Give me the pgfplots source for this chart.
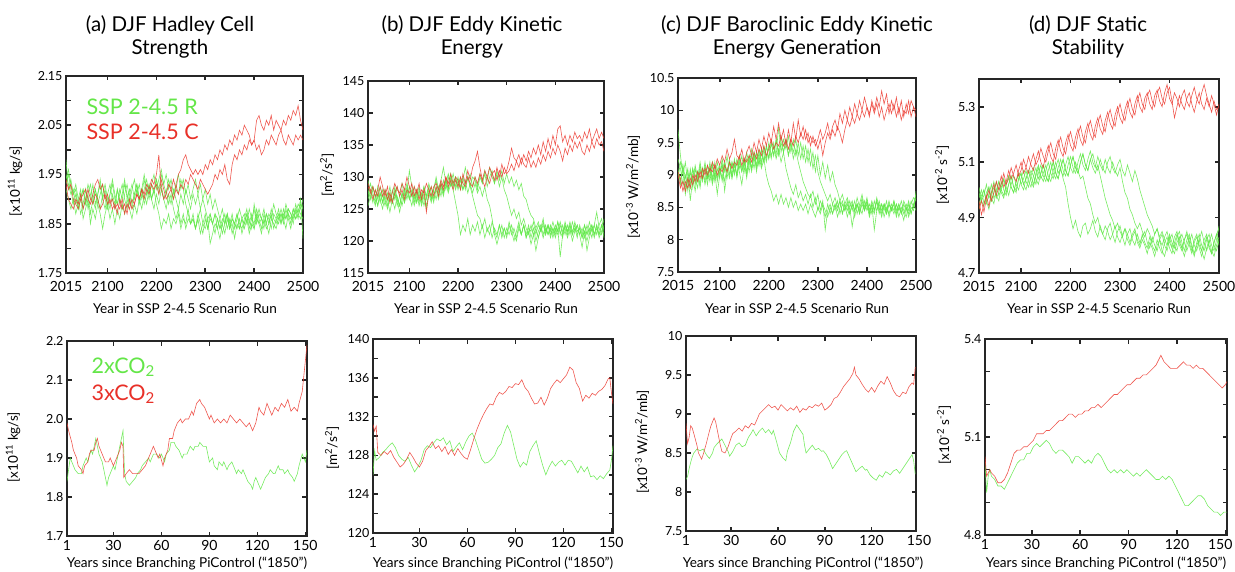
\documentclass[border=0pt]{standalone}
\usepackage{fontspec}
\setmainfont{Lato}
\usepackage{pgfplots}
\usepackage{pgfplotstable}
\pgfplotsset{compat=1.18}
\definecolor{gr}{RGB}{95,232,70}
\definecolor{rd}{RGB}{236,58,48}
\definecolor{grt}{RGB}{100,230,72}
\definecolor{rdt}{RGB}{232,48,40}
\pgfplotsset{
 base/.style={scale only axis, anchor=north west,
  axis line style={line width=2.6pt, draw=black!85},
  tick align=inside, major tick length=4.5pt, minor tick length=4.5pt,
  tick style={line width=1.6pt, black!85},
  yticklabel style={font=\fontsize{12.5}{14}\selectfont},
  xticklabel style={font=\fontsize{14}{16}\selectfont},
  /pgf/number format/assume math mode=true,
  /pgf/number format/1000 sep={}},
 topax/.style={base, xmin=2015, xmax=2500, xtick={2015,2100,2200,2300,2400,2500}, xticklabel style={yshift=-5pt}},
 botax/.style={base, xmin=1, xmax=151, xtick={1,30,60,90,120,150}, xticklabel style={yshift=-0.5pt}},
 gl/.style={color=gr, line width=0.6pt, opacity=0.85, mark=none},
 rl/.style={color=rd, line width=0.6pt, opacity=0.85, mark=none},
}
\pgfplotstableread{
yr g1 g2 g3 g4 g5 r1 r2
2015 1.95 1.93 1.98 1.92 1.94 1.94 1.93
2020 1.93 1.95 1.92 1.90 1.96 1.92 1.90
2025 1.91 1.92 1.94 1.88 1.93 1.93 1.89
2030 1.92 1.89 1.91 1.90 1.91 1.90 1.88
2035 1.89 1.91 1.93 1.87 1.92 1.89 1.90
2040 1.90 1.88 1.90 1.89 1.88 1.88 1.89
2045 1.92 1.90 1.87 1.91 1.90 1.90 1.91
2050 1.88 1.92 1.89 1.86 1.92 1.91 1.88
2055 1.90 1.89 1.92 1.88 1.89 1.92 1.90
2060 1.93 1.91 1.88 1.90 1.91 1.90 1.92
2065 1.91 1.87 1.90 1.85 1.93 1.89 1.90
2070 1.89 1.90 1.93 1.88 1.90 1.91 1.89
2075 1.92 1.92 1.89 1.86 1.88 1.93 1.91
2080 1.90 1.89 1.91 1.89 1.91 1.94 1.90
2085 1.88 1.91 1.94 1.87 1.93 1.92 1.88
2090 1.91 1.93 1.90 1.84 1.90 1.93 1.89
2095 1.93 1.90 1.88 1.87 1.92 1.90 1.91
2100 1.90 1.88 1.91 1.89 1.89 1.91 1.89
2105 1.88 1.91 1.93 1.86 1.91 1.89 1.90
2110 1.91 1.93 1.90 1.88 1.94 1.90 1.88
2115 1.89 1.90 1.88 1.85 1.91 1.88 1.89
2120 1.92 1.89 1.92 1.88 1.89 1.89 1.87
2125 1.90 1.91 1.89 1.86 1.92 1.88 1.90
2130 1.88 1.93 1.91 1.89 1.90 1.90 1.88
2135 1.91 1.90 1.94 1.87 1.93 1.87 1.89
2140 1.93 1.88 1.90 1.90 1.91 1.89 1.87
2145 1.90 1.91 1.92 1.88 1.89 1.88 1.90
2150 1.88 1.93 1.89 1.86 1.92 1.90 1.88
2155 1.91 1.90 1.91 1.89 1.94 1.89 1.89
2160 1.93 1.92 1.93 1.87 1.91 1.91 1.91
2165 1.90 1.89 1.90 1.90 1.93 1.90 1.90
2170 1.92 1.91 1.92 1.88 1.90 1.92 1.92
2175 1.89 1.94 1.95 1.91 1.92 1.91 1.90
2180 1.91 1.91 1.92 1.89 1.94 1.93 1.92
2185 1.93 1.93 1.90 1.92 1.91 1.92 1.91
2190 1.90 1.90 1.93 1.90 1.93 1.94 1.93
2195 1.92 1.92 1.91 1.88 1.95 1.93 1.92
2200 1.89 1.94 1.94 1.91 1.92 1.95 1.93
2205 1.87 1.91 1.92 1.89 1.94 1.99 1.91
2210 1.84 1.93 1.95 1.92 1.96 1.92 1.94
2215 1.86 1.90 1.93 1.90 1.93 1.90 1.92
2220 1.85 1.92 1.91 1.88 1.95 1.91 1.90
2225 1.87 1.89 1.94 1.91 1.92 1.93 1.91
2230 1.84 1.91 1.92 1.89 1.94 1.92 1.92
2235 1.86 1.88 1.90 1.92 1.91 1.94 1.90
2240 1.85 1.86 1.93 1.90 1.93 1.92 1.92
2245 1.87 1.88 1.91 1.88 1.95 1.95 1.91
2250 1.84 1.85 1.94 1.91 1.92 1.96 1.93
2255 1.86 1.87 1.92 1.89 1.94 1.98 1.92
2260 1.85 1.84 1.89 1.92 1.91 1.99 1.94
2265 1.88 1.86 1.87 1.90 1.93 1.97 1.93
2270 1.85 1.85 1.85 1.88 1.90 1.96 1.95
2275 1.86 1.87 1.86 1.91 1.92 1.95 1.94
2280 1.84 1.84 1.84 1.89 1.94 1.96 1.93
2285 1.87 1.86 1.86 1.91 1.91 1.95 1.92
2290 1.85 1.88 1.83 1.88 1.93 1.96 1.94
2295 1.83 1.85 1.85 1.90 1.90 1.95 1.93
2300 1.86 1.87 1.84 1.88 1.92 1.97 1.92
2305 1.84 1.84 1.86 1.86 1.89 1.96 1.91
2310 1.87 1.86 1.81 1.87 1.91 1.98 1.92
2315 1.85 1.85 1.83 1.85 1.88 1.97 1.93
2320 1.83 1.87 1.85 1.87 1.90 1.99 1.95
2325 1.86 1.84 1.84 1.86 1.88 1.98 1.94
2330 1.84 1.86 1.82 1.84 1.86 2.00 1.96
2335 1.85 1.83 1.85 1.86 1.88 1.99 1.95
2340 1.87 1.85 1.83 1.85 1.85 2.01 1.97
2345 1.84 1.87 1.86 1.87 1.87 2.00 1.94
2350 1.86 1.84 1.84 1.85 1.84 2.02 1.93
2355 1.83 1.86 1.85 1.87 1.86 2.01 1.97
2360 1.85 1.85 1.82 1.84 1.85 2.03 1.99
2365 1.87 1.84 1.85 1.86 1.87 2.02 1.98
2370 1.84 1.86 1.84 1.88 1.85 2.04 2.00
2375 1.86 1.83 1.86 1.86 1.84 2.03 1.99
2380 1.85 1.85 1.84 1.87 1.86 2.05 2.01
2385 1.87 1.87 1.86 1.85 1.88 2.04 2.00
2390 1.84 1.86 1.83 1.88 1.85 2.03 2.02
2395 1.86 1.84 1.85 1.86 1.87 2.01 2.01
2400 1.85 1.89 1.84 1.88 1.84 2.02 2.02
2405 1.88 1.86 1.86 1.85 1.87 2.06 2.00
2410 1.86 1.88 1.85 1.87 1.85 2.07 2.01
2415 1.84 1.86 1.83 1.86 1.86 2.05 1.99
2420 1.87 1.85 1.86 1.88 1.84 2.04 2.00
2425 1.85 1.87 1.84 1.85 1.87 2.06 2.02
2430 1.83 1.86 1.85 1.87 1.85 2.05 2.01
2435 1.86 1.84 1.87 1.86 1.88 2.07 2.03
2440 1.85 1.87 1.84 1.89 1.86 2.04 2.02
2445 1.84 1.86 1.86 1.87 1.85 2.06 2.01
2450 1.86 1.88 1.85 1.86 1.87 2.05 2.03
2455 1.87 1.85 1.87 1.88 1.85 2.04 2.04
2460 1.85 1.87 1.86 1.86 1.88 2.06 2.02
2465 1.88 1.86 1.84 1.89 1.86 2.05 2.01
2470 1.86 1.88 1.87 1.87 1.88 2.07 2.03
2475 1.84 1.87 1.85 1.86 1.87 2.06 2.02
2480 1.87 1.85 1.88 1.88 1.86 2.08 2.01
2485 1.86 1.88 1.86 1.87 1.89 2.07 2.03
2490 1.88 1.86 1.87 1.89 1.87 2.09 2.02
2495 1.87 1.89 1.86 1.88 1.90 2.06 2.03
2500 1.86 1.88 1.89 1.90 1.82 2.04 2.02
}\tA
\pgfplotstableread{
yr g1 g2 g3 g4 g5 r1 r2
2015 126.5 128.0 129.5 127.0 125.5 128.5 129.0
2020 128.0 126.5 127.5 129.0 127.0 127.5 128.0
2025 127.0 128.5 126.0 127.5 128.5 128.5 126.5
2030 125.5 127.0 128.0 126.0 127.0 127.0 128.0
2035 127.5 125.5 126.5 128.5 125.5 128.0 127.0
2040 126.0 127.5 128.5 126.5 127.5 130.0 128.5
2045 128.0 126.0 127.0 125.0 126.0 128.5 127.0
2050 126.5 128.0 125.5 127.0 128.0 127.0 128.0
2055 125.0 126.5 127.5 125.5 126.5 128.5 126.5
2060 127.0 128.5 126.0 127.5 124.5 126.0 127.5
2065 126.0 126.0 128.0 126.0 126.5 127.5 126.0
2070 128.5 127.5 126.5 128.0 125.0 129.0 127.5
2075 126.5 125.5 128.5 126.5 127.0 128.0 128.5
2080 125.5 127.0 127.0 124.5 125.5 127.5 127.0
2085 127.5 129.0 125.5 126.5 127.5 129.0 128.0
2090 126.0 127.0 127.5 128.0 126.0 128.0 126.5
2095 128.0 128.5 129.0 126.5 127.5 130.0 128.0
2100 126.5 126.5 127.0 128.5 131.0 128.5 127.5
2105 127.5 128.0 125.5 127.0 128.5 127.0 129.0
2110 125.5 126.0 127.5 128.5 126.5 128.5 127.0
2115 127.0 127.5 126.0 126.0 128.0 127.5 128.0
2120 128.5 125.5 128.0 127.5 126.0 129.0 126.5
2125 126.0 127.0 126.5 125.5 127.5 126.5 128.0
2130 127.5 128.5 128.5 127.0 125.5 128.0 127.5
2135 125.5 126.5 127.0 125.0 127.0 124.5 129.0
2140 127.0 128.0 129.0 127.5 128.5 127.5 128.0
2145 128.5 126.5 127.5 126.0 126.5 128.5 127.0
2150 126.5 128.0 126.0 128.0 128.0 127.0 128.5
2155 128.0 129.5 128.5 126.5 130.0 128.5 129.0
2160 126.5 127.5 127.0 128.5 128.0 127.0 128.0
2165 128.5 129.0 129.0 127.0 129.5 129.0 129.5
2170 127.0 127.5 127.5 129.5 131.5 128.0 128.5
2175 129.0 129.5 129.5 128.0 129.0 130.0 130.0
2180 127.5 128.0 128.0 130.0 130.5 129.0 128.5
2185 129.0 130.5 130.0 128.5 129.0 130.5 129.5
2190 128.0 128.5 128.5 129.5 130.5 129.0 128.0
2195 126.0 130.0 130.0 128.0 128.5 130.0 129.5
2200 124.0 128.0 128.5 129.5 130.0 129.5 128.5
2205 121.0 129.5 130.0 128.5 128.0 128.0 130.0
2210 122.5 128.0 128.0 130.0 129.5 130.5 129.0
2215 121.5 129.0 129.5 128.0 131.5 129.0 128.5
2220 123.5 130.0 127.5 130.0 129.5 131.0 130.0
2225 121.0 128.5 129.0 128.5 130.5 129.5 129.0
2230 122.5 127.0 127.5 130.0 128.5 131.5 128.5
2235 121.5 125.5 129.0 129.5 130.0 132.5 130.0
2240 123.0 124.0 127.5 128.0 128.5 134.0 129.0
2245 121.0 123.5 128.5 130.0 130.5 131.5 130.5
2250 122.5 122.0 127.0 129.0 129.0 129.5 129.5
2255 120.5 123.5 128.5 130.5 131.0 131.0 128.5
2260 122.0 121.5 126.5 128.5 129.5 130.0 130.0
2265 121.0 122.5 125.5 130.0 131.5 131.5 129.0
2270 123.0 120.5 123.5 131.0 130.0 130.5 130.5
2275 121.5 122.0 121.0 129.0 129.0 129.5 131.0
2280 120.5 121.0 119.5 130.5 131.0 131.5 129.5
2285 122.5 122.5 121.0 128.5 129.5 130.0 131.0
2290 121.0 120.5 122.5 130.0 131.0 132.0 130.0
2295 122.0 122.0 120.5 128.0 129.0 130.5 131.5
2300 120.5 121.0 122.0 127.0 130.5 131.0 130.5
2305 122.5 123.0 121.0 125.5 129.0 132.5 131.0
2310 121.0 121.5 122.5 124.0 130.0 134.5 132.0
2315 122.0 120.0 121.0 125.0 128.5 133.0 131.0
2320 120.5 121.5 120.0 123.5 129.5 132.5 132.5
2325 122.5 123.0 122.0 124.5 128.0 133.5 131.5
2330 121.0 121.0 121.0 122.5 129.0 132.0 133.0
2335 122.5 122.5 122.5 123.5 127.0 133.5 132.0
2340 120.5 121.0 120.5 122.0 126.5 132.5 131.5
2345 122.0 122.5 121.5 121.0 125.0 134.0 133.0
2350 121.5 120.5 119.5 122.5 124.0 133.0 131.5
2355 123.0 122.0 121.0 121.0 123.5 134.5 132.5
2360 121.0 120.0 118.5 122.0 122.0 133.5 131.5
2365 122.5 121.5 120.5 120.5 123.0 135.0 133.0
2370 121.5 122.5 122.0 122.0 121.5 133.5 132.0
2375 123.0 121.0 120.5 123.5 122.5 135.5 133.5
2380 121.5 122.5 122.0 121.0 121.0 134.0 132.5
2385 122.5 121.0 121.0 122.5 122.5 136.0 134.0
2390 120.5 122.0 122.5 121.5 121.0 134.5 133.0
2395 122.0 120.5 121.0 123.0 122.0 136.5 134.5
2400 121.0 122.0 122.5 121.5 120.5 135.0 133.5
2405 123.0 121.0 121.5 123.0 122.0 137.5 135.0
2410 121.5 122.5 123.0 121.0 117.5 138.0 134.0
2415 120.5 121.0 121.5 122.5 121.0 135.5 132.5
2420 122.5 123.0 122.0 121.0 122.5 136.5 134.5
2425 121.0 121.5 120.5 122.5 121.5 135.0 133.5
2430 122.5 122.5 122.0 121.0 123.0 136.5 135.0
2435 121.0 121.0 120.0 123.0 121.5 135.5 134.0
2440 123.0 122.0 121.5 121.5 122.5 137.0 135.5
2445 121.5 120.5 122.5 122.5 121.0 136.0 134.5
2450 122.0 122.5 121.0 121.0 122.0 136.5 135.5
2455 120.5 121.0 119.0 122.0 120.5 135.5 134.0
2460 122.5 122.5 121.5 120.5 121.5 137.0 133.5
2465 121.0 121.0 120.0 122.5 118.5 136.0 135.0
2470 123.0 122.0 121.5 121.0 120.5 137.5 134.0
2475 121.5 120.5 122.5 122.5 122.0 135.5 135.5
2480 122.5 122.5 121.0 121.0 120.5 136.5 134.5
2485 124.5 121.0 122.5 122.5 122.0 137.5 136.0
2490 122.0 122.5 121.0 120.5 121.0 136.0 135.0
2495 121.0 123.5 122.5 121.5 122.5 137.0 135.5
2500 122.5 121.5 120.5 123.5 121.0 136.0 134.0
}\tB
\pgfplotstableread{
yr g1 g2 g3 g4 g5 r1 r2
2015 9.05 9.25 8.95 9.70 9.10 9.00 9.05
2020 8.90 9.10 9.20 9.30 8.85 8.80 8.95
2025 9.15 8.85 9.05 9.00 9.15 8.90 8.75
2030 8.80 9.00 8.70 9.20 8.95 8.75 8.90
2035 9.05 8.75 8.95 8.85 9.10 8.95 8.80
2040 8.85 9.10 8.80 9.05 8.60 8.80 8.95
2045 9.10 8.90 9.10 8.80 8.95 9.00 8.85
2050 8.95 9.15 8.85 9.10 8.75 8.90 9.00
2055 8.80 8.95 9.05 8.90 9.05 9.05 8.90
2060 9.10 9.20 8.80 9.15 8.85 8.95 9.05
2065 8.90 8.95 9.10 8.95 9.10 9.10 8.95
2070 9.15 9.10 8.85 9.20 8.90 9.00 9.10
2075 8.95 8.85 9.05 8.95 9.15 9.15 9.00
2080 9.20 9.15 8.90 9.10 8.95 9.05 9.10
2085 8.90 8.95 9.15 8.85 9.20 9.20 9.05
2090 9.10 9.20 8.95 9.05 8.90 9.10 9.15
2095 8.95 8.90 9.20 8.70 9.10 9.25 9.00
2100 9.15 9.10 9.00 9.00 8.95 9.15 9.10
2105 8.90 8.95 9.25 9.15 9.20 9.30 9.05
2110 9.15 9.20 9.05 8.90 8.75 9.20 9.15
2115 8.95 9.05 9.30 9.10 9.05 9.40 9.05
2120 9.20 9.25 9.00 8.95 9.20 9.25 9.20
2125 9.00 8.95 9.20 9.20 8.95 9.35 9.10
2130 9.25 9.20 9.05 9.00 9.15 9.55 9.20
2135 8.95 9.00 9.25 9.20 9.00 9.30 9.15
2140 9.20 9.30 9.10 9.05 9.25 9.25 9.30
2145 9.05 9.10 9.30 8.85 9.05 9.40 9.15
2150 9.25 9.25 9.05 9.15 9.20 9.20 9.25
2155 9.00 9.05 9.35 9.25 8.95 9.35 9.20
2160 9.30 9.30 9.15 9.05 9.25 9.45 9.30
2165 9.10 9.10 9.40 9.30 9.05 9.30 9.20
2170 9.35 9.35 9.20 9.10 9.30 9.50 9.35
2175 9.05 9.15 9.35 9.35 9.10 9.35 9.25
2180 9.30 9.40 9.15 9.15 9.35 9.55 9.40
2185 9.10 9.20 9.40 9.40 9.15 9.40 9.30
2190 9.25 9.45 9.20 9.20 9.40 9.60 9.45
2195 9.00 9.25 9.45 9.45 9.20 9.45 9.30
2200 8.85 9.50 9.25 9.25 9.45 9.65 9.40
2205 8.75 9.30 9.50 9.50 9.25 9.50 9.55
2210 8.60 9.45 9.30 9.30 9.50 9.75 9.40
2215 8.70 9.25 9.55 9.55 9.30 9.55 9.50
2220 8.55 9.40 9.30 9.35 9.75 9.80 9.45
2225 8.70 9.20 9.50 9.60 9.35 9.55 9.60
2230 8.55 9.35 9.35 9.35 9.55 9.70 9.45
2235 8.65 9.10 9.55 9.55 9.40 9.45 9.55
2240 8.50 8.95 9.30 9.30 9.60 9.70 9.40
2245 8.65 8.80 9.50 9.50 9.35 9.50 9.55
2250 8.50 8.70 9.25 9.35 9.55 9.80 9.45
2255 8.60 8.85 9.40 9.55 9.30 9.55 9.60
2260 8.45 8.65 9.20 9.30 9.50 9.85 9.50
2265 8.55 8.75 9.05 9.50 9.25 9.60 9.65
2270 8.45 8.60 8.90 9.25 9.45 9.75 9.55
2275 8.55 8.70 8.80 9.45 9.20 9.55 9.70
2280 8.40 8.55 8.70 9.20 9.40 9.65 9.50
2285 8.55 8.70 8.65 9.40 9.15 9.45 9.60
2290 8.45 8.50 8.75 9.10 9.35 9.60 9.50
2295 8.35 8.65 8.55 9.30 9.05 9.45 9.55
2300 8.50 8.45 8.70 9.05 9.30 9.55 9.40
2305 8.40 8.60 8.45 8.90 9.00 9.70 9.55
2310 8.55 8.50 8.60 8.80 9.20 9.55 9.30
2315 8.45 8.35 8.15 8.70 8.95 9.65 9.50
2320 8.35 8.55 8.45 8.60 9.15 9.80 9.65
2325 8.50 8.40 8.55 8.70 8.90 9.60 9.55
2330 8.40 8.55 8.40 8.55 9.05 9.75 9.70
2335 8.55 8.45 8.55 8.65 8.85 9.85 9.60
2340 8.45 8.60 8.35 8.50 8.75 9.70 9.75
2345 8.60 8.40 8.50 8.60 8.60 9.95 9.65
2350 8.40 8.55 8.60 8.40 8.70 9.80 9.50
2355 8.55 8.45 8.45 8.55 8.55 10.00 9.70
2360 8.35 8.60 8.55 8.45 8.65 9.85 9.85
2365 8.50 8.40 8.40 8.60 8.50 10.05 9.75
2370 8.60 8.55 8.55 8.45 8.20 9.90 9.90
2375 8.45 8.35 8.45 8.60 8.45 10.10 9.80
2380 8.55 8.55 8.65 8.40 8.55 9.95 9.95
2385 8.40 8.45 8.50 8.55 8.40 10.15 9.85
2390 8.60 8.65 8.40 8.70 8.55 10.00 10.00
2395 8.45 8.45 8.60 8.50 8.45 10.20 9.90
2400 8.55 8.60 8.45 8.65 8.60 10.05 10.05
2405 8.35 8.40 8.55 8.45 8.40 9.90 9.95
2410 8.50 8.55 8.40 8.60 8.55 10.15 10.10
2415 8.40 8.45 8.60 8.45 8.15 10.00 9.95
2420 8.60 8.60 8.45 8.65 8.45 10.20 10.10
2425 8.45 8.40 8.55 8.50 8.60 10.05 9.90
2430 8.55 8.55 8.40 8.35 8.45 10.30 10.05
2435 8.35 8.45 8.55 8.55 8.55 10.10 9.85
2440 8.50 8.60 8.45 8.40 8.40 10.25 10.00
2445 8.40 8.35 8.60 8.55 8.55 9.95 10.10
2450 8.55 8.50 8.45 8.45 8.45 10.15 9.95
2455 8.45 8.40 8.55 8.60 8.60 10.00 10.10
2460 8.55 8.55 8.35 8.45 8.40 10.20 9.90
2465 8.35 8.45 8.50 8.55 8.55 9.95 10.05
2470 8.50 8.60 8.40 8.40 8.45 10.15 9.85
2475 8.40 8.45 8.55 8.60 8.30 9.90 10.00
2480 8.55 8.35 8.45 8.50 8.50 10.10 9.95
2485 8.45 8.55 8.60 8.35 8.40 9.95 10.15
2490 8.60 8.40 8.40 8.50 8.55 10.15 9.90
2495 8.50 8.55 8.55 8.45 8.65 10.05 10.05
2500 8.65 8.45 8.70 8.75 8.60 10.00 9.90
}\tC
\pgfplotstableread{
yr g1 g2 g3 g4 g5 r1 r2
2015 4.95 4.99 4.97 5.01 4.93 4.93 4.96
2020 4.98 4.96 5.00 4.96 4.97 4.96 4.91
2025 5.00 4.94 4.95 4.98 5.00 4.92 4.95
2030 4.96 4.99 4.97 5.02 4.95 4.97 4.98
2035 4.93 5.01 5.01 4.97 4.98 5.00 4.94
2040 4.98 4.97 4.96 4.99 5.02 4.96 4.99
2045 5.01 4.95 4.99 5.03 4.97 4.99 5.02
2050 4.97 5.00 5.03 4.98 4.99 5.03 4.98
2055 4.99 5.03 4.98 4.96 5.03 5.00 5.01
2060 5.03 4.99 5.00 5.01 5.00 5.02 5.05
2065 5.00 4.97 5.04 5.04 4.98 5.06 5.01
2070 4.98 5.02 5.01 4.99 5.02 5.02 5.03
2075 5.02 5.05 4.98 5.02 5.05 5.04 5.07
2080 5.05 5.01 5.02 5.05 5.01 5.08 5.04
2085 5.01 4.99 5.05 5.01 4.99 5.05 5.06
2090 5.00 5.03 5.02 4.99 5.03 5.03 5.09
2095 5.04 5.06 5.00 5.04 5.06 5.07 5.05
2100 5.06 5.02 5.04 5.06 5.02 5.10 5.07
2105 5.02 5.00 5.07 5.02 5.04 5.06 5.11
2110 5.04 5.04 5.03 5.00 5.07 5.08 5.08
2115 5.07 5.07 5.01 5.04 5.03 5.12 5.06
2120 5.03 5.05 5.05 5.07 5.01 5.09 5.10
2125 5.01 5.02 5.08 5.05 5.05 5.07 5.13
2130 5.05 5.06 5.04 5.02 5.08 5.11 5.09
2135 5.08 5.09 5.02 5.06 5.04 5.14 5.11
2140 5.04 5.05 5.06 5.09 5.06 5.10 5.15
2145 5.06 5.03 5.09 5.05 5.09 5.08 5.12
2150 5.09 5.07 5.05 5.03 5.05 5.13 5.10
2155 5.05 5.10 5.03 5.07 5.03 5.16 5.14
2160 5.03 5.06 5.07 5.10 5.07 5.12 5.17
2165 5.07 5.04 5.10 5.06 5.10 5.10 5.13
2170 5.10 5.08 5.06 5.04 5.06 5.15 5.11
2175 5.06 5.11 5.04 5.08 5.04 5.18 5.16
2180 5.08 5.07 5.08 5.11 5.08 5.14 5.19
2185 5.04 5.05 5.11 5.07 5.11 5.12 5.15
2190 5.01 5.09 5.07 5.05 5.07 5.17 5.13
2195 4.95 5.12 5.05 5.09 5.05 5.20 5.18
2200 4.90 5.08 5.09 5.12 5.09 5.16 5.21
2205 4.86 5.06 5.12 5.08 5.12 5.14 5.17
2210 4.89 5.10 5.08 5.06 5.08 5.19 5.15
2215 4.85 5.07 5.06 5.10 5.06 5.22 5.20
2220 4.83 5.04 5.10 5.13 5.10 5.18 5.23
2225 4.87 5.05 5.13 5.09 5.13 5.16 5.19
2230 4.88 5.01 5.09 5.07 5.09 5.21 5.17
2235 4.84 4.97 5.07 5.11 5.07 5.24 5.22
2240 4.86 4.95 5.11 5.14 5.11 5.20 5.25
2245 4.89 4.91 5.08 5.10 5.13 5.18 5.21
2250 4.85 4.88 5.06 5.08 5.09 5.23 5.19
2255 4.83 4.90 5.09 5.12 5.07 5.26 5.24
2260 4.87 4.86 5.05 5.09 5.11 5.22 5.27
2265 4.84 4.84 5.01 5.07 5.08 5.20 5.23
2270 4.82 4.87 4.97 5.11 5.06 5.25 5.21
2275 4.86 4.85 4.94 5.08 5.10 5.28 5.26
2280 4.88 4.82 4.91 5.06 5.12 5.24 5.29
2285 4.84 4.84 4.89 5.10 5.08 5.22 5.25
2290 4.81 4.87 4.86 5.07 5.06 5.27 5.23
2295 4.85 4.83 4.88 5.05 5.09 5.30 5.28
2300 4.87 4.81 4.85 5.08 5.11 5.26 5.31
2305 4.83 4.84 4.83 5.03 5.07 5.24 5.27
2310 4.80 4.86 4.86 4.99 5.05 5.29 5.25
2315 4.84 4.82 4.84 4.97 5.09 5.32 5.30
2320 4.86 4.80 4.81 4.93 5.06 5.28 5.33
2325 4.82 4.83 4.84 4.91 5.03 5.26 5.29
2330 4.80 4.85 4.86 4.88 5.07 5.31 5.27
2335 4.84 4.81 4.82 4.86 5.04 5.34 5.32
2340 4.81 4.79 4.80 4.88 5.00 5.30 5.35
2345 4.83 4.82 4.84 4.85 4.97 5.28 5.31
2350 4.85 4.80 4.81 4.83 4.94 5.33 5.29
2355 4.81 4.77 4.79 4.86 4.91 5.35 5.34
2360 4.79 4.81 4.83 4.84 4.89 5.31 5.36
2365 4.83 4.79 4.80 4.81 4.87 5.29 5.32
2370 4.80 4.76 4.78 4.84 4.84 5.34 5.30
2375 4.78 4.80 4.82 4.86 4.86 5.36 5.35
2380 4.82 4.82 4.79 4.82 4.83 5.32 5.37
2385 4.84 4.78 4.77 4.80 4.85 5.30 5.33
2390 4.80 4.76 4.81 4.83 4.82 5.35 5.31
2395 4.78 4.80 4.83 4.85 4.80 5.38 5.35
2400 4.82 4.83 4.79 4.81 4.84 5.33 5.37
2405 4.84 4.79 4.77 4.79 4.81 5.31 5.32
2410 4.80 4.77 4.81 4.83 4.79 5.35 5.26
2415 4.78 4.81 4.84 4.85 4.83 5.33 5.30
2420 4.82 4.83 4.80 4.81 4.85 5.30 5.34
2425 4.84 4.79 4.78 4.79 4.81 5.34 5.31
2430 4.81 4.76 4.82 4.82 4.78 5.36 5.29
2435 4.78 4.80 4.84 4.85 4.82 5.32 5.33
2440 4.81 4.83 4.80 4.81 4.84 5.30 5.35
2445 4.84 4.79 4.77 4.78 4.80 5.34 5.31
2450 4.80 4.76 4.81 4.82 4.77 5.37 5.28
2455 4.78 4.80 4.83 4.84 4.81 5.33 5.32
2460 4.82 4.82 4.79 4.80 4.84 5.31 5.35
2465 4.85 4.78 4.76 4.78 4.80 5.35 5.31
2470 4.81 4.75 4.80 4.82 4.78 5.38 5.29
2475 4.78 4.79 4.83 4.84 4.82 5.34 5.33
2480 4.81 4.82 4.79 4.80 4.84 5.31 5.30
2485 4.84 4.78 4.77 4.77 4.80 5.28 5.34
2490 4.80 4.76 4.81 4.81 4.78 5.32 5.31
2495 4.78 4.80 4.84 4.84 4.82 5.29 5.27
2500 4.82 4.83 4.80 4.86 4.87 5.30 5.31
}\tD
\newcommand{\panelgreens}[1]{%
 \addplot[gl] table[x=yr,y=g1]{#1};
 \addplot[gl] table[x=yr,y=g2]{#1};
 \addplot[gl] table[x=yr,y=g3]{#1};
 \addplot[gl] table[x=yr,y=g4]{#1};
 \addplot[gl] table[x=yr,y=g5]{#1};
 \addplot[rl] table[x=yr,y=r1]{#1};
 \addplot[rl] table[x=yr,y=r2]{#1};}
\begin{document}
\begin{tikzpicture}
\useasboundingbox (0,0) rectangle (1235pt,-572pt);
\tikzset{ttl/.style={anchor=base, font=\fontsize{20.5}{24}\selectfont},
 yl/.style={rotate=90, anchor=center, font=\fontsize{13.5}{15}\selectfont},
 xl/.style={anchor=base, font=\fontsize{13.6}{15}\selectfont},
 lg/.style={anchor=base west, font=\fontsize{21.5}{24}\selectfont}}
% titles
\node[ttl] at (170pt,-32pt) {(a) DJF Hadley Cell};
\node[ttl] at (170pt,-55pt) {Strength};
\node[ttl] at (472pt,-32pt) {(b) DJF Eddy Kinetic};
\node[ttl] at (472pt,-55pt) {Energy};
\node[ttl] at (797pt,-32pt) {(c) DJF Baroclinic Eddy Kinetic};
\node[ttl] at (797pt,-55pt) {Energy Generation};
\node[ttl] at (1088pt,-32pt) {(d) DJF Static};
\node[ttl] at (1088pt,-55pt) {Stability};
% ---------- top row
\begin{axis}[topax, at={(66pt,-76pt)}, width=237pt, height=197pt,
 ymin=1.75, ymax=2.15, ytick={1.75,1.85,1.95,2.05,2.15}, minor ytick={1.8,1.9,2.0,2.1},
 yticklabel style={/pgf/number format/.cd, fixed, fixed zerofill, precision=2}]
\panelgreens{\tA}
\end{axis}
\begin{axis}[topax, at={(368pt,-81pt)}, width=236pt, height=192pt,
 ymin=115, ymax=145, ytick={115,120,125,130,135,140,145}]
\panelgreens{\tB}
\end{axis}
\begin{axis}[topax, at={(678pt,-78pt)}, width=238pt, height=194pt,
 ymin=7.5, ymax=10.5, ytick={7.5,8,8.5,9,9.5,10,10.5}]
\panelgreens{\tC}
\end{axis}
\begin{axis}[topax, at={(979pt,-79pt)}, width=240pt, height=194pt,
 ymin=4.7, ymax=5.4, ytick={4.7,4.9,5.1,5.3}]
\panelgreens{\tD}
\end{axis}
% ---------- bottom row
\begin{axis}[botax, at={(67pt,-341pt)}, width=240pt, height=195pt,
 ymin=1.7, ymax=2.2, ytick={1.7,1.8,1.9,2.0,2.1,2.2},
 yticklabel style={/pgf/number format/.cd, fixed, fixed zerofill, precision=1}]
\addplot[gl] coordinates {(1,1.84)(3,1.90)(5,1.88)(6,1.87)(8,1.86)(10,1.86)(11,1.88)(13,1.90)(14,1.89)(16,1.92)(17,1.91)(19,1.95)(20,1.93)(21,1.91)(23,1.89)(24,1.87)(26,1.83)(27,1.85)(28,1.86)(30,1.88)(31,1.87)(33,1.91)(34,1.93)(35,1.95)(36,1.97)(37,1.86)(38,1.84)(40,1.83)(42,1.84)(44,1.85)(45,1.86)(47,1.87)(48,1.88)(50,1.89)(52,1.90)(53,1.89)(55,1.91)(57,1.91)(59,1.90)(60,1.91)(62,1.89)(63,1.91)(65,1.92)(66,1.94)(68,1.94)(69,1.93)(71,1.92)(73,1.90)(74,1.91)(76,1.91)(78,1.93)(80,1.92)(81,1.93)(83,1.93)(84,1.94)(86,1.93)(88,1.93)(89,1.91)(90,1.89)(92,1.90)(93,1.88)(95,1.87)(96,1.89)(98,1.88)(99,1.89)(101,1.87)(102,1.88)(104,1.89)(105,1.88)(107,1.86)(108,1.87)(110,1.86)(111,1.87)(113,1.85)(114,1.84)(116,1.83)(117,1.82)(118,1.84)(119,1.85)(121,1.83)(122,1.82)(124,1.84)(125,1.85)(127,1.86)(128,1.87)(130,1.86)(131,1.86)(133,1.88)(134,1.87)(136,1.87)(137,1.86)(139,1.87)(140,1.86)(142,1.85)(143,1.84)(145,1.86)(146,1.88)(148,1.91)(149,1.90)(150,1.89)(151,1.92)};
\addplot[rl] coordinates {(1,1.99)(2,1.97)(4,1.94)(5,1.92)(7,1.90)(8,1.88)(10,1.87)(11,1.86)(12,1.88)(14,1.89)(15,1.91)(16,1.92)(18,1.92)(19,1.94)(20,1.95)(21,1.93)(22,1.92)(24,1.90)(25,1.89)(27,1.89)(28,1.90)(30,1.88)(31,1.89)(33,1.91)(34,1.92)(35,1.94)(36,1.93)(36.5,1.85)(38,1.86)(40,1.87)(42,1.86)(44,1.86)(46,1.86)(48,1.87)(50,1.88)(52,1.90)(53,1.91)(55,1.93)(56,1.92)(58,1.90)(59,1.91)(61,1.88)(62,1.90)(64,1.92)(65,1.95)(67,1.95)(68,1.97)(70,1.99)(72,2.00)(73,1.99)(75,2.00)(77,2.00)(79,2.02)(80,2.01)(82,2.04)(84,2.05)(85,2.04)(87,2.03)(88,2.02)(90,2.00)(91,2.01)(93,1.99)(95,2.00)(97,1.99)(99,2.00)(101,1.99)(103,2.01)(105,2.00)(107,1.99)(109,2.00)(111,1.99)(113,1.98)(115,1.99)(117,1.97)(119,1.99)(121,2.03)(122,2.02)(124,2.01)(126,2.04)(128,2.02)(129,2.01)(131,2.03)(133,2.02)(135,2.04)(137,2.03)(139,2.05)(141,2.02)(143,2.03)(145,2.02)(146,2.04)(148,2.07)(149,2.11)(150,2.15)(151,2.19)};
\end{axis}
\begin{axis}[botax, at={(373pt,-339pt)}, width=240pt, height=194pt,
 ymin=120, ymax=140, ytick={120,124,128,132,136,140}, minor ytick={122,126,130,134,138}]
\addplot[gl] coordinates {(1,126.0)(2,128.5)(3,127.5)(5,127.8)(7,128.3)(9,128.6)(11,129.0)(13,129.3)(15,128.8)(17,128.0)(19,127.6)(21,127.4)(23,127.8)(25,127.0)(27,126.3)(29,126.8)(31,127.5)(33,128.6)(35,129.0)(37,128.8)(39,129.3)(41,129.7)(43,129.5)(45,129.8)(47,129.1)(49,129.5)(51,128.4)(53,128.9)(55,129.3)(57,128.6)(59,129.4)(61,130.0)(63,130.3)(65,129.6)(67,128.6)(69,127.6)(71,127.2)(73,127.3)(75,127.6)(77,128.0)(79,128.8)(81,129.2)(83,130.3)(85,131.1)(87,130.4)(89,129.0)(91,127.6)(93,126.8)(95,127.3)(97,127.0)(99,128.4)(101,129.0)(103,129.5)(105,128.2)(107,127.0)(109,126.0)(111,126.8)(113,127.4)(115,126.9)(117,127.3)(119,127.5)(121,127.0)(123,127.5)(125,127.4)(127,126.8)(129,126.2)(131,126.9)(133,126.3)(135,126.8)(137,125.8)(139,125.9)(141,125.5)(143,125.9)(145,125.6)(147,126.1)(149,126.5)(150,127.5)(151,129.0)};
\addplot[rl] coordinates {(1,131.2)(2,130.5)(3,131.0)(4,128.3)(6,128.0)(8,128.4)(10,128.1)(12,128.5)(14,127.8)(16,127.3)(18,126.8)(20,127.1)(22,127.6)(24,128.3)(26,127.8)(28,127.2)(30,126.8)(32,127.4)(34,128.5)(36,128.9)(38,129.4)(40,128.7)(42,129.0)(44,128.4)(46,128.9)(48,128.1)(50,128.6)(52,128.0)(54,128.7)(56,128.2)(58,127.8)(60,127.6)(62,128.6)(64,129.7)(66,130.7)(68,131.5)(70,132.2)(72,132.8)(74,133.3)(76,133.2)(78,134.0)(80,134.5)(82,134.3)(84,134.6)(86,135.1)(88,135.0)(90,135.4)(92,135.3)(94,135.8)(96,135.0)(98,134.6)(100,133.9)(102,133.3)(104,133.4)(106,134.0)(108,133.2)(110,133.9)(112,134.9)(114,135.4)(116,135.8)(118,135.5)(120,135.9)(122,136.3)(124,137.1)(126,136.8)(128,135.5)(130,134.9)(132,133.6)(134,134.2)(136,133.9)(138,134.4)(140,134.2)(142,134.6)(144,134.8)(146,135.2)(148,135.9)(149,136.0)(150,134.5)(151,133.3)};
\end{axis}
\begin{axis}[botax, at={(686pt,-336pt)}, width=230pt, height=195pt, xmax=148.5,
 ymin=7.5, ymax=10, ytick={7.5,8,8.5,9,9.5,10}]
\addplot[gl] coordinates {(1,8.16)(2,8.20)(3,8.30)(4,8.38)(5,8.45)(6,8.50)(8,8.55)(10,8.53)(12,8.55)(14,8.48)(16,8.43)(18,8.50)(19,8.57)(21,8.62)(23,8.66)(24,8.68)(26,8.60)(28,8.52)(29,8.46)(31,8.52)(33,8.60)(35,8.63)(37,8.58)(39,8.60)(41,8.70)(43,8.76)(44,8.80)(46,8.72)(48,8.78)(50,8.82)(52,8.76)(54,8.80)(56,8.74)(57,8.79)(59,8.65)(61,8.50)(63,8.44)(65,8.40)(66,8.52)(68,8.63)(70,8.78)(72,8.86)(74,8.80)(76,8.74)(77,8.60)(78,8.50)(80,8.55)(82,8.60)(84,8.54)(86,8.56)(88,8.52)(89,8.53)(91,8.48)(93,8.40)(95,8.30)(97,8.36)(99,8.42)(101,8.48)(103,8.52)(104,8.53)(106,8.44)(108,8.35)(110,8.26)(112,8.30)(114,8.33)(116,8.28)(117,8.29)(119,8.22)(121,8.18)(123,8.15)(125,8.22)(127,8.19)(129,8.26)(130,8.25)(132,8.22)(134,8.27)(136,8.29)(138,8.24)(140,8.30)(142,8.36)(144,8.42)(146,8.48)(147,8.40)(148,8.23)};
\addplot[rl] coordinates {(1,8.88)(2,8.62)(3,8.70)(4,8.85)(5,8.82)(6,8.75)(8,8.60)(9,8.50)(11,8.42)(12,8.48)(14,8.62)(16,8.78)(17,8.85)(19,8.95)(20,8.90)(21,8.80)(23,8.60)(24,8.52)(26,8.50)(28,8.58)(30,8.70)(31,8.75)(33,8.78)(35,8.82)(37,8.78)(39,8.85)(41,8.82)(43,8.88)(45,8.86)(47,8.95)(48,9.00)(50,9.04)(52,9.08)(54,9.12)(56,9.08)(58,9.10)(60,9.05)(62,9.12)(64,9.08)(66,9.04)(68,9.08)(70,9.05)(72,9.10)(74,9.02)(76,9.07)(78,9.05)(80,9.10)(82,9.08)(84,9.12)(86,9.10)(88,9.14)(90,9.05)(92,9.08)(94,9.12)(96,9.20)(98,9.22)(100,9.28)(102,9.35)(104,9.40)(106,9.45)(108,9.52)(109,9.60)(110,9.50)(112,9.45)(114,9.38)(116,9.32)(118,9.28)(120,9.34)(122,9.28)(124,9.36)(126,9.42)(128,9.38)(130,9.48)(132,9.40)(134,9.30)(136,9.24)(138,9.22)(140,9.28)(142,9.26)(144,9.35)(146,9.40)(147,9.38)(148,9.60)};
\end{axis}
\begin{axis}[botax, at={(985pt,-339pt)}, width=242pt, height=196pt,
 xticklabels={1,30,60,90,120,{}},
 ymin=4.8, ymax=5.4, ytick={4.8,5.1,5.4}, minor ytick={4.9,5.0,5.2,5.3}]
\addplot[gl] coordinates {(1,5.02)(2,4.93)(3,4.98)(4,5.00)(5,4.98)(7,4.97)(9,4.95)(11,4.95)(13,4.94)(15,4.96)(17,4.98)(19,5.00)(21,5.02)(23,5.03)(25,5.03)(27,5.05)(29,5.05)(31,5.07)(33,5.08)(35,5.07)(37,5.08)(39,5.09)(41,5.08)(43,5.06)(45,5.05)(47,5.06)(49,5.06)(51,5.05)(53,5.04)(55,5.02)(57,5.04)(59,5.04)(61,5.03)(63,5.02)(65,5.03)(67,5.02)(69,5.04)(71,5.05)(73,5.04)(75,5.02)(77,5.00)(79,4.99)(81,5.00)(83,4.99)(85,5.00)(87,4.99)(89,5.00)(91,4.99)(93,4.98)(95,4.99)(97,4.98)(99,4.99)(101,5.00)(103,4.99)(105,4.98)(107,4.97)(109,4.97)(111,4.98)(113,4.97)(115,4.98)(117,4.97)(119,4.95)(121,4.93)(123,4.91)(125,4.89)(127,4.89)(129,4.90)(131,4.91)(133,4.92)(135,4.92)(137,4.91)(139,4.89)(141,4.88)(143,4.87)(145,4.87)(147,4.86)(149,4.87)(151,4.87)};
\addplot[rl] coordinates {(1,5.04)(2,4.98)(3,4.99)(4,5.00)(5,4.99)(7,4.98)(9,4.96)(11,4.96)(13,4.97)(15,4.99)(17,5.02)(19,5.05)(21,5.06)(23,5.06)(25,5.07)(27,5.07)(29,5.08)(31,5.09)(33,5.11)(35,5.11)(37,5.11)(39,5.12)(41,5.12)(43,5.13)(45,5.14)(47,5.15)(49,5.15)(51,5.16)(53,5.17)(55,5.17)(57,5.16)(59,5.17)(61,5.17)(63,5.18)(65,5.18)(67,5.19)(69,5.19)(71,5.20)(73,5.19)(75,5.20)(77,5.21)(79,5.22)(81,5.23)(83,5.23)(85,5.24)(87,5.25)(89,5.26)(91,5.26)(93,5.27)(95,5.28)(97,5.28)(99,5.29)(101,5.29)(103,5.30)(105,5.31)(107,5.32)(109,5.34)(110,5.35)(112,5.33)(114,5.32)(116,5.31)(118,5.31)(120,5.31)(122,5.32)(124,5.33)(126,5.32)(128,5.32)(130,5.31)(132,5.32)(134,5.31)(136,5.31)(138,5.30)(140,5.29)(142,5.28)(144,5.27)(146,5.26)(148,5.25)(150,5.26)(151,5.27)};
\end{axis}
% tick labels placed beside the axes
\node[anchor=north, font=\fontsize{14}{16}\selectfont, inner sep=0.333em] at (919pt,-531.5pt) {150};
\node[anchor=north east, font=\fontsize{14}{16}\selectfont, inner sep=0.333em] at (1236pt,-535.5pt) {150};
% legends
\node[lg, text=grt] at (83pt,-115pt) {SSP 2-4.5 R};
\node[lg, text=rdt] at (83pt,-140pt) {SSP 2-4.5 C};
\node[lg, text=grt] at (88pt,-373pt) {2xCO\textsubscript{2}};
\node[lg, text=rdt] at (88pt,-400pt) {3xCO\textsubscript{2}};
% y labels
\node[yl] at (15pt,-181pt) {[x10\textsuperscript{11} kg/s]};
\node[yl] at (327pt,-175pt) {[m\textsuperscript{2}/s\textsuperscript{2}]};
\node[yl] at (633pt,-187pt) {[x10\textsuperscript{-3} W/m\textsuperscript{2}/mb]};
\node[yl] at (942pt,-175pt) {[x10\textsuperscript{-2} s\textsuperscript{-2}]};
\node[yl] at (13pt,-447pt) {[x10\textsuperscript{11} kg/s]};
\node[yl] at (332pt,-448pt) {[m\textsuperscript{2}/s\textsuperscript{2}]};
\node[yl] at (642pt,-442pt) {[x10\textsuperscript{-3} W/m\textsuperscript{2}/mb]};
\node[yl] at (944pt,-435pt) {[x10\textsuperscript{-2} s\textsuperscript{-2}]};
% x labels
\node[xl] at (185pt,-313pt) {Year in SSP 2-4.5 Scenario Run};
\node[xl] at (486pt,-313pt) {Year in SSP 2-4.5 Scenario Run};
\node[xl] at (797pt,-313pt) {Year in SSP 2-4.5 Scenario Run};
\node[xl] at (1099pt,-313pt) {Year in SSP 2-4.5 Scenario Run};
\node[xl] at (187pt,-567pt) {Years since Branching PiControl (“1850”)};
\node[xl] at (493pt,-567pt) {Years since Branching PiControl (“1850”)};
\node[xl] at (803pt,-567pt) {Years since Branching PiControl (“1850”)};
\node[xl] at (1106pt,-567pt) {Years since Branching PiControl (“1850”)};
\end{tikzpicture}
\end{document}
